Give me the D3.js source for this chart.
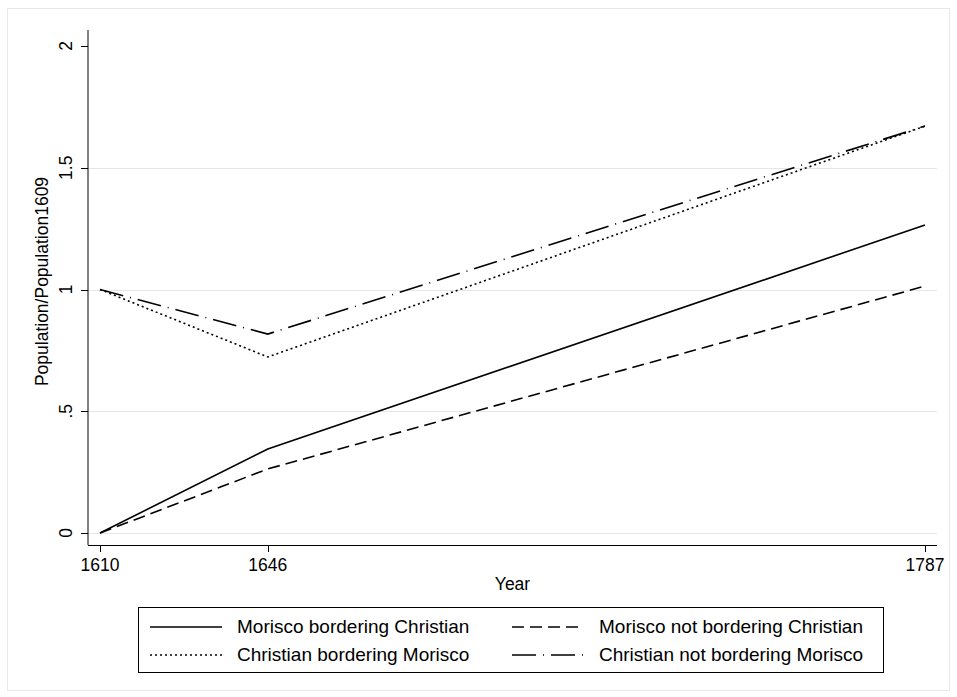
<!DOCTYPE html>
<html>
<head>
<meta charset="utf-8">
<script src="https://cdn.jsdelivr.net/npm/d3@7"></script>
<style>
  body { margin: 0; background: #fff; }
  text { font-family: "Liberation Sans", Arial, sans-serif; fill: #000; }
</style>
</head>
<body>
<script>
// Data
var years = [1610, 1646, 1787];
var seriesNames = [
    "Morisco bordering Christian",
    "Morisco not bordering Christian",
    "Christian bordering Morisco",
    "Christian not bordering Morisco"
];
var moriscoBordering = [0, 0.345, 1.265];
var moriscoNotBordering = [0, 0.263, 1.014];
var christianBordering = [1, 0.723, 1.671];
var christianNotBordering = [1, 0.817, 1.671];
var yTicks = [0, 0.5, 1, 1.5, 2];
var yTickLabels = ["0", ".5", "1", "1.5", "2"];

var dashes = ["none", "12,6", "2,3", "24,7,1,7"];

var width = 957,
    height = 697;

var svg = d3.select("body").append("svg")
    .attr("width", width)
    .attr("height", height);

// outer frame
svg.append("rect")
    .attr("x", 7.5).attr("y", 8.5)
    .attr("width", 942).attr("height", 682)
    .attr("fill", "none")
    .attr("stroke", "#e8e8e8");

var x = d3.scaleLinear().domain([1610, 1787]).range([100, 925]);
var y = d3.scaleLinear().domain([0, 2]).range([533, 46]);

var plotLeft = 88, plotRight = 937, plotTop = 30, plotBottom = 545;
var axisFont = 17.5, legendFont = 19;

// grid
svg.append("g")
    .selectAll("line")
    .data(yTicks.slice(0, 4))
    .enter().append("line")
    .attr("x1", plotLeft).attr("x2", plotRight)
    .attr("y1", function (d) { return Math.round(y(d)) + 0.5; })
    .attr("y2", function (d) { return Math.round(y(d)) + 0.5; })
    .attr("stroke", "#e6e6e6")
    .attr("stroke-width", 1.2);

// y axis
var yAxis = svg.append("g")
    .attr("transform", "translate(" + plotLeft + ",0)");
yAxis.append("line")
    .attr("x1", 0).attr("x2", 0)
    .attr("y1", plotTop).attr("y2", plotBottom)
    .attr("stroke", "#000");
yAxis.selectAll(".tick")
    .data(yTicks)
    .enter().append("line")
    .attr("x1", -7).attr("x2", 0)
    .attr("y1", function (d) { return Math.round(y(d)) + 0.5; })
    .attr("y2", function (d) { return Math.round(y(d)) + 0.5; })
    .attr("stroke", "#000");
yAxis.selectAll("text")
    .data(yTicks)
    .enter().append("text")
    .attr("transform", function (d) { return "translate(-16," + y(d) + ") rotate(-90)"; })
    .attr("text-anchor", "middle")
    .attr("font-size", axisFont)
    .text(function (d, i) { return yTickLabels[i]; });

// x axis
var xAxis = svg.append("g")
    .attr("transform", "translate(0," + plotBottom + ")");
xAxis.append("line")
    .attr("x1", plotLeft).attr("x2", plotRight)
    .attr("y1", 0.5).attr("y2", 0.5)
    .attr("stroke", "#000");
xAxis.selectAll(".tick")
    .data(years)
    .enter().append("line")
    .attr("x1", function (d) { return Math.round(x(d)) + 0.5; })
    .attr("x2", function (d) { return Math.round(x(d)) + 0.5; })
    .attr("y1", 0).attr("y2", 7)
    .attr("stroke", "#000");
xAxis.selectAll("text")
    .data(years)
    .enter().append("text")
    .attr("x", function (d) { return x(d); })
    .attr("y", 26)
    .attr("text-anchor", "middle")
    .attr("font-size", axisFont)
    .text(function (d) { return d; });

svg.append("text")
    .attr("x", (plotLeft + plotRight) / 2)
    .attr("y", 590)
    .attr("text-anchor", "middle")
    .attr("font-size", axisFont)
    .text("Year");

svg.append("text")
    .attr("transform", "translate(48," + ((plotTop + 533) / 2) + ") rotate(-90)")
    .attr("text-anchor", "middle")
    .attr("font-size", axisFont)
    .text("Population/Population1609");

// lines
var allSeries = [moriscoBordering, moriscoNotBordering, christianBordering, christianNotBordering];
var line = d3.line()
    .x(function (d, i) { return x(years[i]); })
    .y(function (d) { return y(d); });

svg.append("g")
    .selectAll("path")
    .data(allSeries)
    .enter().append("path")
    .attr("d", line)
    .attr("fill", "none")
    .attr("stroke", "#000")
    .attr("stroke-width", 1.6)
    .attr("stroke-dasharray", function (d, i) { return dashes[i]; });

// legend
var legend = svg.append("g");
legend.append("rect")
    .attr("x", 138.5).attr("y", 607.5)
    .attr("width", 745).attr("height", 65)
    .attr("fill", "none")
    .attr("stroke", "#000");

var legendItems = legend.selectAll(".item")
    .data(seriesNames)
    .enter().append("g")
    .attr("transform", function (d, i) {
        return "translate(" + (i % 2 === 0 ? 150 : 512) + "," + (i < 2 ? 627 : 655) + ")";
    });
legendItems.append("line")
    .attr("x1", 0).attr("x2", 72)
    .attr("y1", 0).attr("y2", 0)
    .attr("stroke", "#000")
    .attr("stroke-width", 1.6)
    .attr("stroke-dasharray", function (d, i) { return dashes[i]; });
legendItems.append("text")
    .attr("x", 87)
    .attr("y", 6)
    .attr("font-size", legendFont)
    .text(function (d) { return d; });
</script>
</body>
</html>
